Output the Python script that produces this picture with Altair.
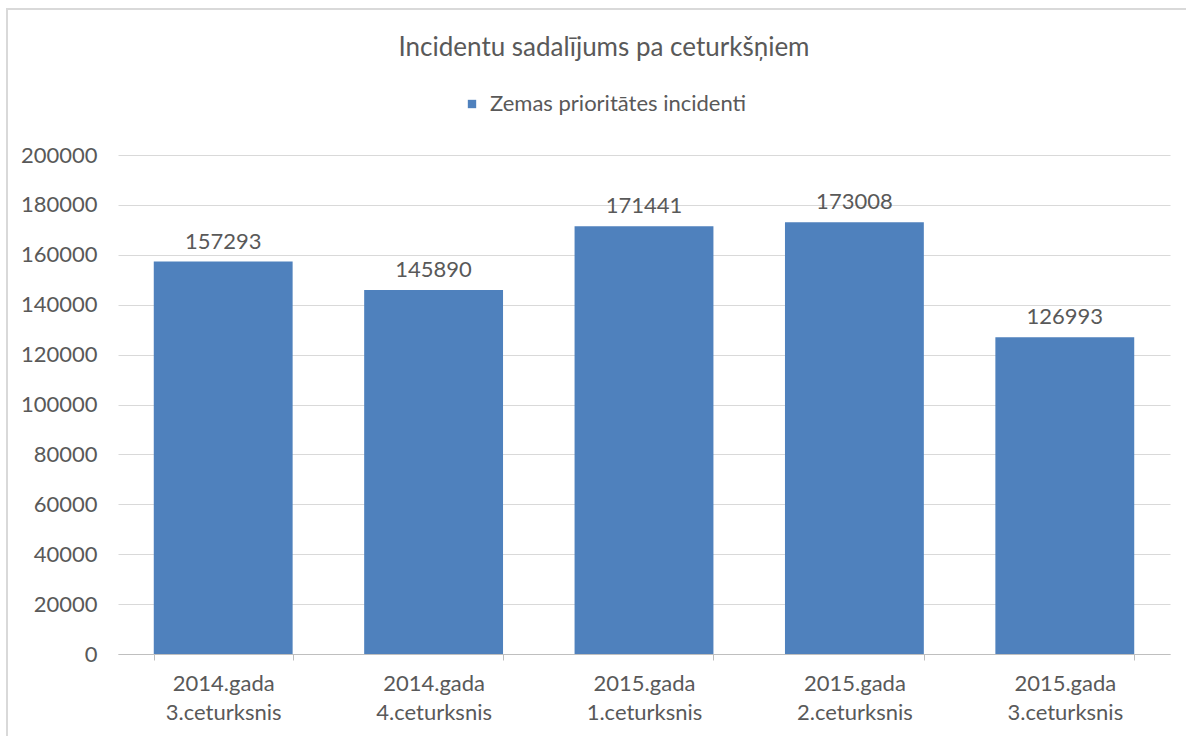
import altair as alt
import pandas as pd

categories = ["2014.gada\n3.ceturksnis", "2014.gada\n4.ceturksnis", "2015.gada\n1.ceturksnis",
              "2015.gada\n2.ceturksnis", "2015.gada\n3.ceturksnis"]
values = [157293, 145890, 171441, 173008, 126993]
series_name = "Zemas prioritātes incidenti"
y_ticks = list(range(0, 200001, 20000))

df = pd.DataFrame({"cat": categories, "val": values, "series": [series_name] * len(values)})

FONT = "Lato"
GREY = "#595959"
BLUE = "#4F81BD"

W, H = 1052, 499

x_enc = alt.X("cat:N", sort=categories, title=None,
              scale=alt.Scale(paddingInner=0.34, paddingOuter=0.17),
              axis=alt.Axis(labelAngle=0, labelExpr="split(datum.label, '\\n')",
                            labelFontSize=22, labelColor=GREY, labelFont=FONT,
                            labelLineHeight=29, labelPadding=13,
                            domainColor="#BFBFBF", tickColor="#BFBFBF", tickSize=6,
                            tickBand="extent", grid=False))
y_enc = alt.Y("val:Q", title=None,
              scale=alt.Scale(domain=[0, 200000], nice=False),
              axis=alt.Axis(values=y_ticks, labelFontSize=22, labelColor=GREY, labelFont=FONT,
                            labelPadding=21, domain=False, ticks=False,
                            gridColor="#D9D9D9", format="d"))

frame = alt.Chart(pd.DataFrame({"f": [0]})).mark_rect(
    fill="transparent", stroke="#D9D9D9", strokeWidth=2
).encode(x=alt.value(-111), x2=alt.value(1080), y=alt.value(-146), y2=alt.value(600))

bars = alt.Chart(df).mark_bar().encode(
    x=x_enc, y=y_enc,
    color=alt.Color("series:N", scale=alt.Scale(domain=[series_name], range=[BLUE]),
                    legend=alt.Legend(title=None, orient="none", legendX=343, legendY=-62,
                                      symbolType="square", symbolSize=70, labelFontSize=22,
                                      labelColor=GREY, labelFont=FONT, symbolStrokeWidth=0,
                                      labelOffset=7, labelLimit=400)),
)

labels = alt.Chart(df).mark_text(baseline="bottom", dy=-8, fontSize=22, color=GREY, font=FONT).encode(
    x=alt.X("cat:N", sort=categories), y="val:Q", text=alt.Text("val:Q", format="d"))

chart = alt.layer(frame, bars, labels).properties(
    width=W, height=H,
    title=alt.Title("Incidentu sadalījums pa ceturkšņiem", fontSize=26, font=FONT, color=GREY,
                    fontWeight="normal", anchor="middle", dx=-40, offset=-53),
    autosize=alt.AutoSizeParams(type="none"),
    padding={"left": 118, "top": 155, "right": 16, "bottom": 82},
).configure(background="white").configure_view(stroke="transparent", strokeWidth=0)

chart.save("out.html", embed_options={"renderer": "svg", "actions": False})
